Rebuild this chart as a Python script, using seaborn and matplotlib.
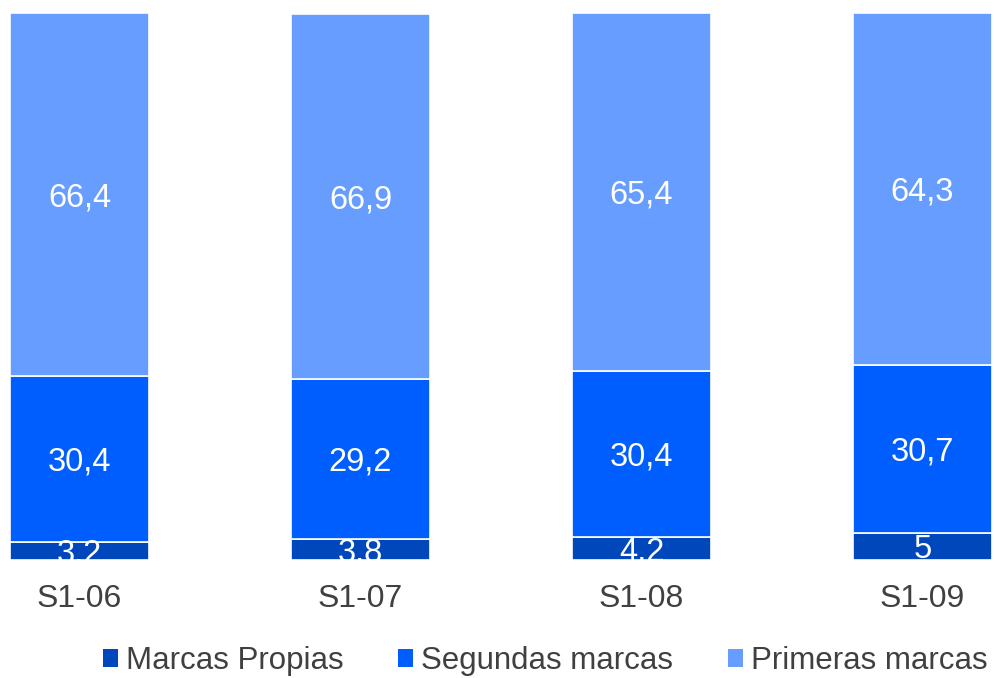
import matplotlib
matplotlib.use("Agg")
import matplotlib.pyplot as plt
import matplotlib.transforms as mtransforms
import seaborn as sns
import numpy as np
import pandas as pd
from matplotlib.patches import Patch

periods = ["S1-06", "S1-07", "S1-08", "S1-09"]
marcas_propias = [3.2, 3.8, 4.2, 5]
segundas_marcas = [30.4, 29.2, 30.4, 30.7]
primeras_marcas = [66.4, 66.9, 65.4, 64.3]
value_labels = {
    "Marcas Propias": ["3,2", "3,8", "4,2", "5"],
    "Segundas marcas": ["30,4", "29,2", "30,4", "30,7"],
    "Primeras marcas": ["66,4", "66,9", "65,4", "64,3"],
}
series_names = ["Marcas Propias", "Segundas marcas", "Primeras marcas"]
colors = ["#0047BB", "#005EFF", "#679DFF"]

sns.set_theme(style="white")
plt.rcParams["font.family"] = ["Liberation Sans", "DejaVu Sans"]

fig = plt.figure(figsize=(9.94, 6.78), dpi=100)
ax = fig.add_axes([0, (678 - 560) / 678, 1, 547 / 678])

# labels sit a few pixels below the exact segment centre
label_tf = ax.transData + mtransforms.ScaledTranslation(0, -3 / 100, fig.dpi_scale_trans)

series_vals = [marcas_propias, segundas_marcas, primeras_marcas]
bottom = np.zeros(len(periods))
for name, vals, col in zip(series_names, series_vals, colors):
    df = pd.DataFrame({"period": periods, "value": vals})
    sns.barplot(data=df, x="period", y="value", order=periods, color=col,
                width=0.495, bottom=bottom.copy(), edgecolor="white",
                linewidth=1.2, saturation=1, ax=ax, errorbar=None)
    for i, (v, lab) in enumerate(zip(vals, value_labels[name])):
        ax.text(i, bottom[i] + v / 2, lab, ha="center", va="center",
                color="white", fontsize=23.5, clip_on=True, transform=label_tf)
    bottom += np.array(vals)

ax.set_xlim(-79.5 / 281, 3 + (994 - 922.5) / 281)
ax.set_ylim(0, 100)
ax.set_xlabel("")
ax.set_ylabel("")
ax.set_yticks([])
for s in ax.spines.values():
    s.set_visible(False)
ax.tick_params(axis="x", length=0, pad=17, labelsize=23, labelcolor="#404040")

handles = [Patch(facecolor=c, edgecolor="none") for c in colors]
fig.legend(handles, series_names, loc="center", ncol=3,
           bbox_to_anchor=(545 / 994, 1 - 661 / 678), frameon=False,
           fontsize=22.5, labelcolor="#404040", handlelength=0.48,
           handleheight=0.48, handletextpad=0.26, columnspacing=1.75,
           borderpad=0)

fig.savefig("out.png", dpi=100)
